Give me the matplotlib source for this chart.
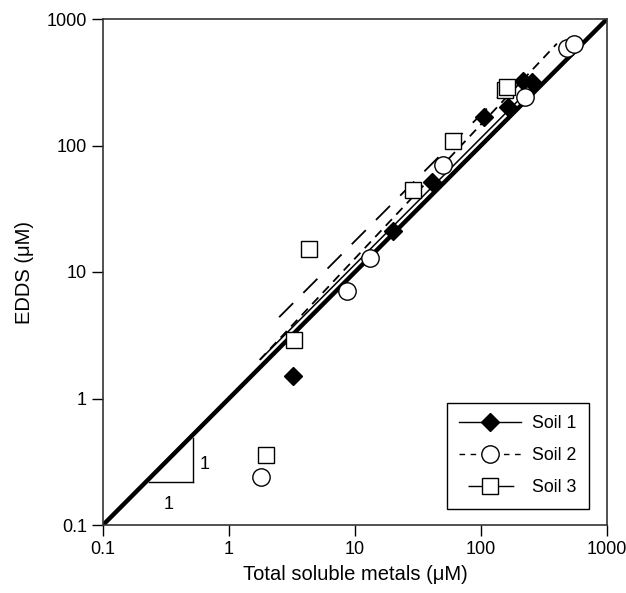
import matplotlib
matplotlib.use("Agg")
import matplotlib.pyplot as plt
import numpy as np

plt.rcParams['font.family'] = ['Liberation Sans', 'DejaVu Sans']

# Data
soil1_x = [3.2, 20, 41, 105, 164, 215, 254]
soil1_y = [1.5, 21, 51, 167, 203, 321, 315]
soil2_x = [1.8, 8.6, 13.2, 50, 225, 480, 550]
soil2_y = [0.24, 7.1, 12.8, 70, 240, 590, 640]
soil3_x = [1.95, 3.3, 4.3, 29, 60, 155, 162]
soil3_y = [0.36, 2.9, 15.1, 44.5, 108, 277, 290]

# Fitted lines: x range, intercept (log10), slope (log-log)
fit1_x = [1.8, 260]
fit1_a, fit1_b = 0.06, 1.0
fit2_x = [1.75, 400]
fit2_a, fit2_b = 0.047, 1.06
fit3_x = [2.5, 165]
fit3_a, fit3_b = 0.245, 1.0

one_to_one = [0.1, 1000]
tick_vals = [0.1, 1, 10, 100, 1000]
tick_labels = ['0.1', '1', '10', '100', '1000']

fig = plt.figure(figsize=(6.26, 5.93), dpi=100)
ax = fig.add_axes([103/626, 1-525/593, 504/626, 506/593])
ax.set_xscale('log')
ax.set_yscale('log')
ax.set_xlim(0.1, 1000)
ax.set_ylim(0.1, 1000)

def fit(xr, a, b):
    xr = np.array(xr, dtype=float)
    return xr, 10**(a + b*np.log10(xr))

ax.plot(one_to_one, one_to_one, color='black', lw=3.2, zorder=2, solid_capstyle='butt')
x1, y1 = fit(fit1_x, fit1_a, fit1_b)
ax.plot(x1, y1, color='black', lw=1.1, zorder=2)
x2, y2 = fit(fit2_x, fit2_a, fit2_b)
ax.plot(x2, y2, color='black', lw=1.3, ls=(0, (5, 3.5)), zorder=2)
x3, y3 = fit(fit3_x, fit3_a, fit3_b)
ax.plot(x3, y3, color='black', lw=1.3, ls=(0, (11, 8)), zorder=2)

ax.plot(soil1_x, soil1_y, ls='none', marker='D', ms=9, mfc='black', mec='black', zorder=3)
ax.plot(soil2_x, soil2_y, ls='none', marker='o', ms=12.5, mfc='white', mec='black', mew=1.0, zorder=3)
ax.plot(soil3_x, soil3_y, ls='none', marker='s', ms=12, mfc='white', mec='black', mew=1.0, zorder=3)

# Legend proxies
h1, = ax.plot([], [], color='black', lw=1.0, marker='D', ms=9, mfc='black', mec='black')
h2, = ax.plot([], [], color='black', lw=1.0, ls=(0, (4, 4)), marker='o', ms=12.5, mfc='white', mec='black')
h3, = ax.plot([], [], color='black', lw=1.0, ls=(33, (33, 6.5)), marker='s', ms=12, mfc='white', mec='black')
leg = ax.legend([h1, h2, h3], ['Soil 1', 'Soil 2', 'Soil 3'], loc='lower right',
                bbox_to_anchor=(0.964, 0.032), fancybox=False, framealpha=1,
                edgecolor='black', fontsize=12.8, handlelength=3.5, borderpad=0.7,
                labelspacing=0.85, handletextpad=0.6, borderaxespad=0)
leg.get_frame().set_linewidth(1.0)

# slope triangle
ax.plot([0.23, 0.52], [0.22, 0.22], color='black', lw=1.0)
ax.plot([0.52, 0.52], [0.22, 0.49], color='black', lw=1.0)
ax.text(0.33, 0.145, '1', fontsize=13, ha='center', va='center')
ax.text(0.64, 0.30, '1', fontsize=13, ha='center', va='center')

ax.set_xticks(tick_vals)
ax.set_xticklabels(tick_labels)
ax.set_yticks(tick_vals)
ax.set_yticklabels(tick_labels)
ax.minorticks_off()
ax.tick_params(axis='both', which='major', direction='out', length=8, width=1.0,
               labelsize=13, top=False, right=False, pad=3.5)
for s in ax.spines.values():
    s.set_linewidth(1.2)
    s.set_color('#333333')

ax.set_xlabel('Total soluble metals (μM)', fontsize=14.5, labelpad=5)
ax.set_ylabel('EDDS (μM)', fontsize=14.5, labelpad=9)

fig.savefig('out.png', dpi=100)
